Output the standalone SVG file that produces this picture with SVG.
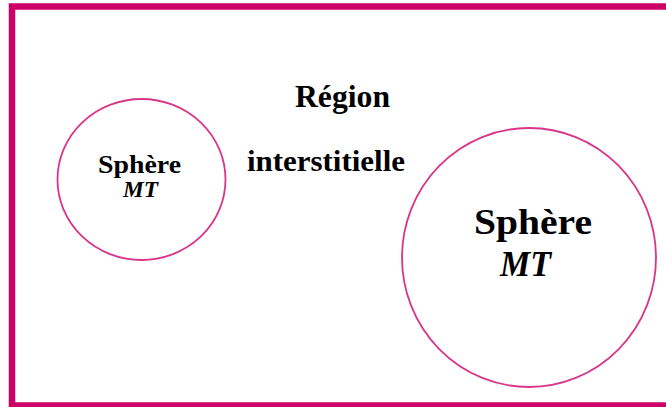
<svg xmlns="http://www.w3.org/2000/svg" width="666" height="407" viewBox="0 0 666 407">
<style>
.frame{fill:none;stroke:#cc0066;stroke-width:6.5}
.sph{fill:none;stroke:#d9368a;stroke-width:1.8}
text{font-family:"Liberation Serif","Times New Roman",serif;font-weight:bold;fill:#000;text-anchor:middle}
.it{font-style:italic}
</style>
<rect width="666" height="407" fill="#fff"/>
<rect class="frame" x="12" y="6.5" width="700" height="399"/>
<g id="region">
<text x="342.5" y="107" font-size="31" textLength="95" lengthAdjust="spacingAndGlyphs">Région</text>
<text x="326" y="170.5" font-size="30" textLength="158" lengthAdjust="spacingAndGlyphs">interstitielle</text>
</g>
<g id="sphere-small">
<ellipse class="sph" cx="141.5" cy="179.5" rx="84" ry="80.5"/>
<text x="139.5" y="172.5" font-size="24.5" textLength="83" lengthAdjust="spacingAndGlyphs">Sphère</text>
<text class="it" x="140.5" y="196.5" font-size="24" textLength="35" lengthAdjust="spacingAndGlyphs">MT</text>
</g>
<g id="sphere-large">
<ellipse class="sph" cx="529" cy="257.5" rx="127" ry="129.5"/>
<text x="533" y="233.5" font-size="36" textLength="118" lengthAdjust="spacingAndGlyphs">Sphère</text>
<text class="it" x="525.5" y="275.5" font-size="35" textLength="51" lengthAdjust="spacingAndGlyphs">MT</text>
</g>
<g id="connectors"/>
</svg>
